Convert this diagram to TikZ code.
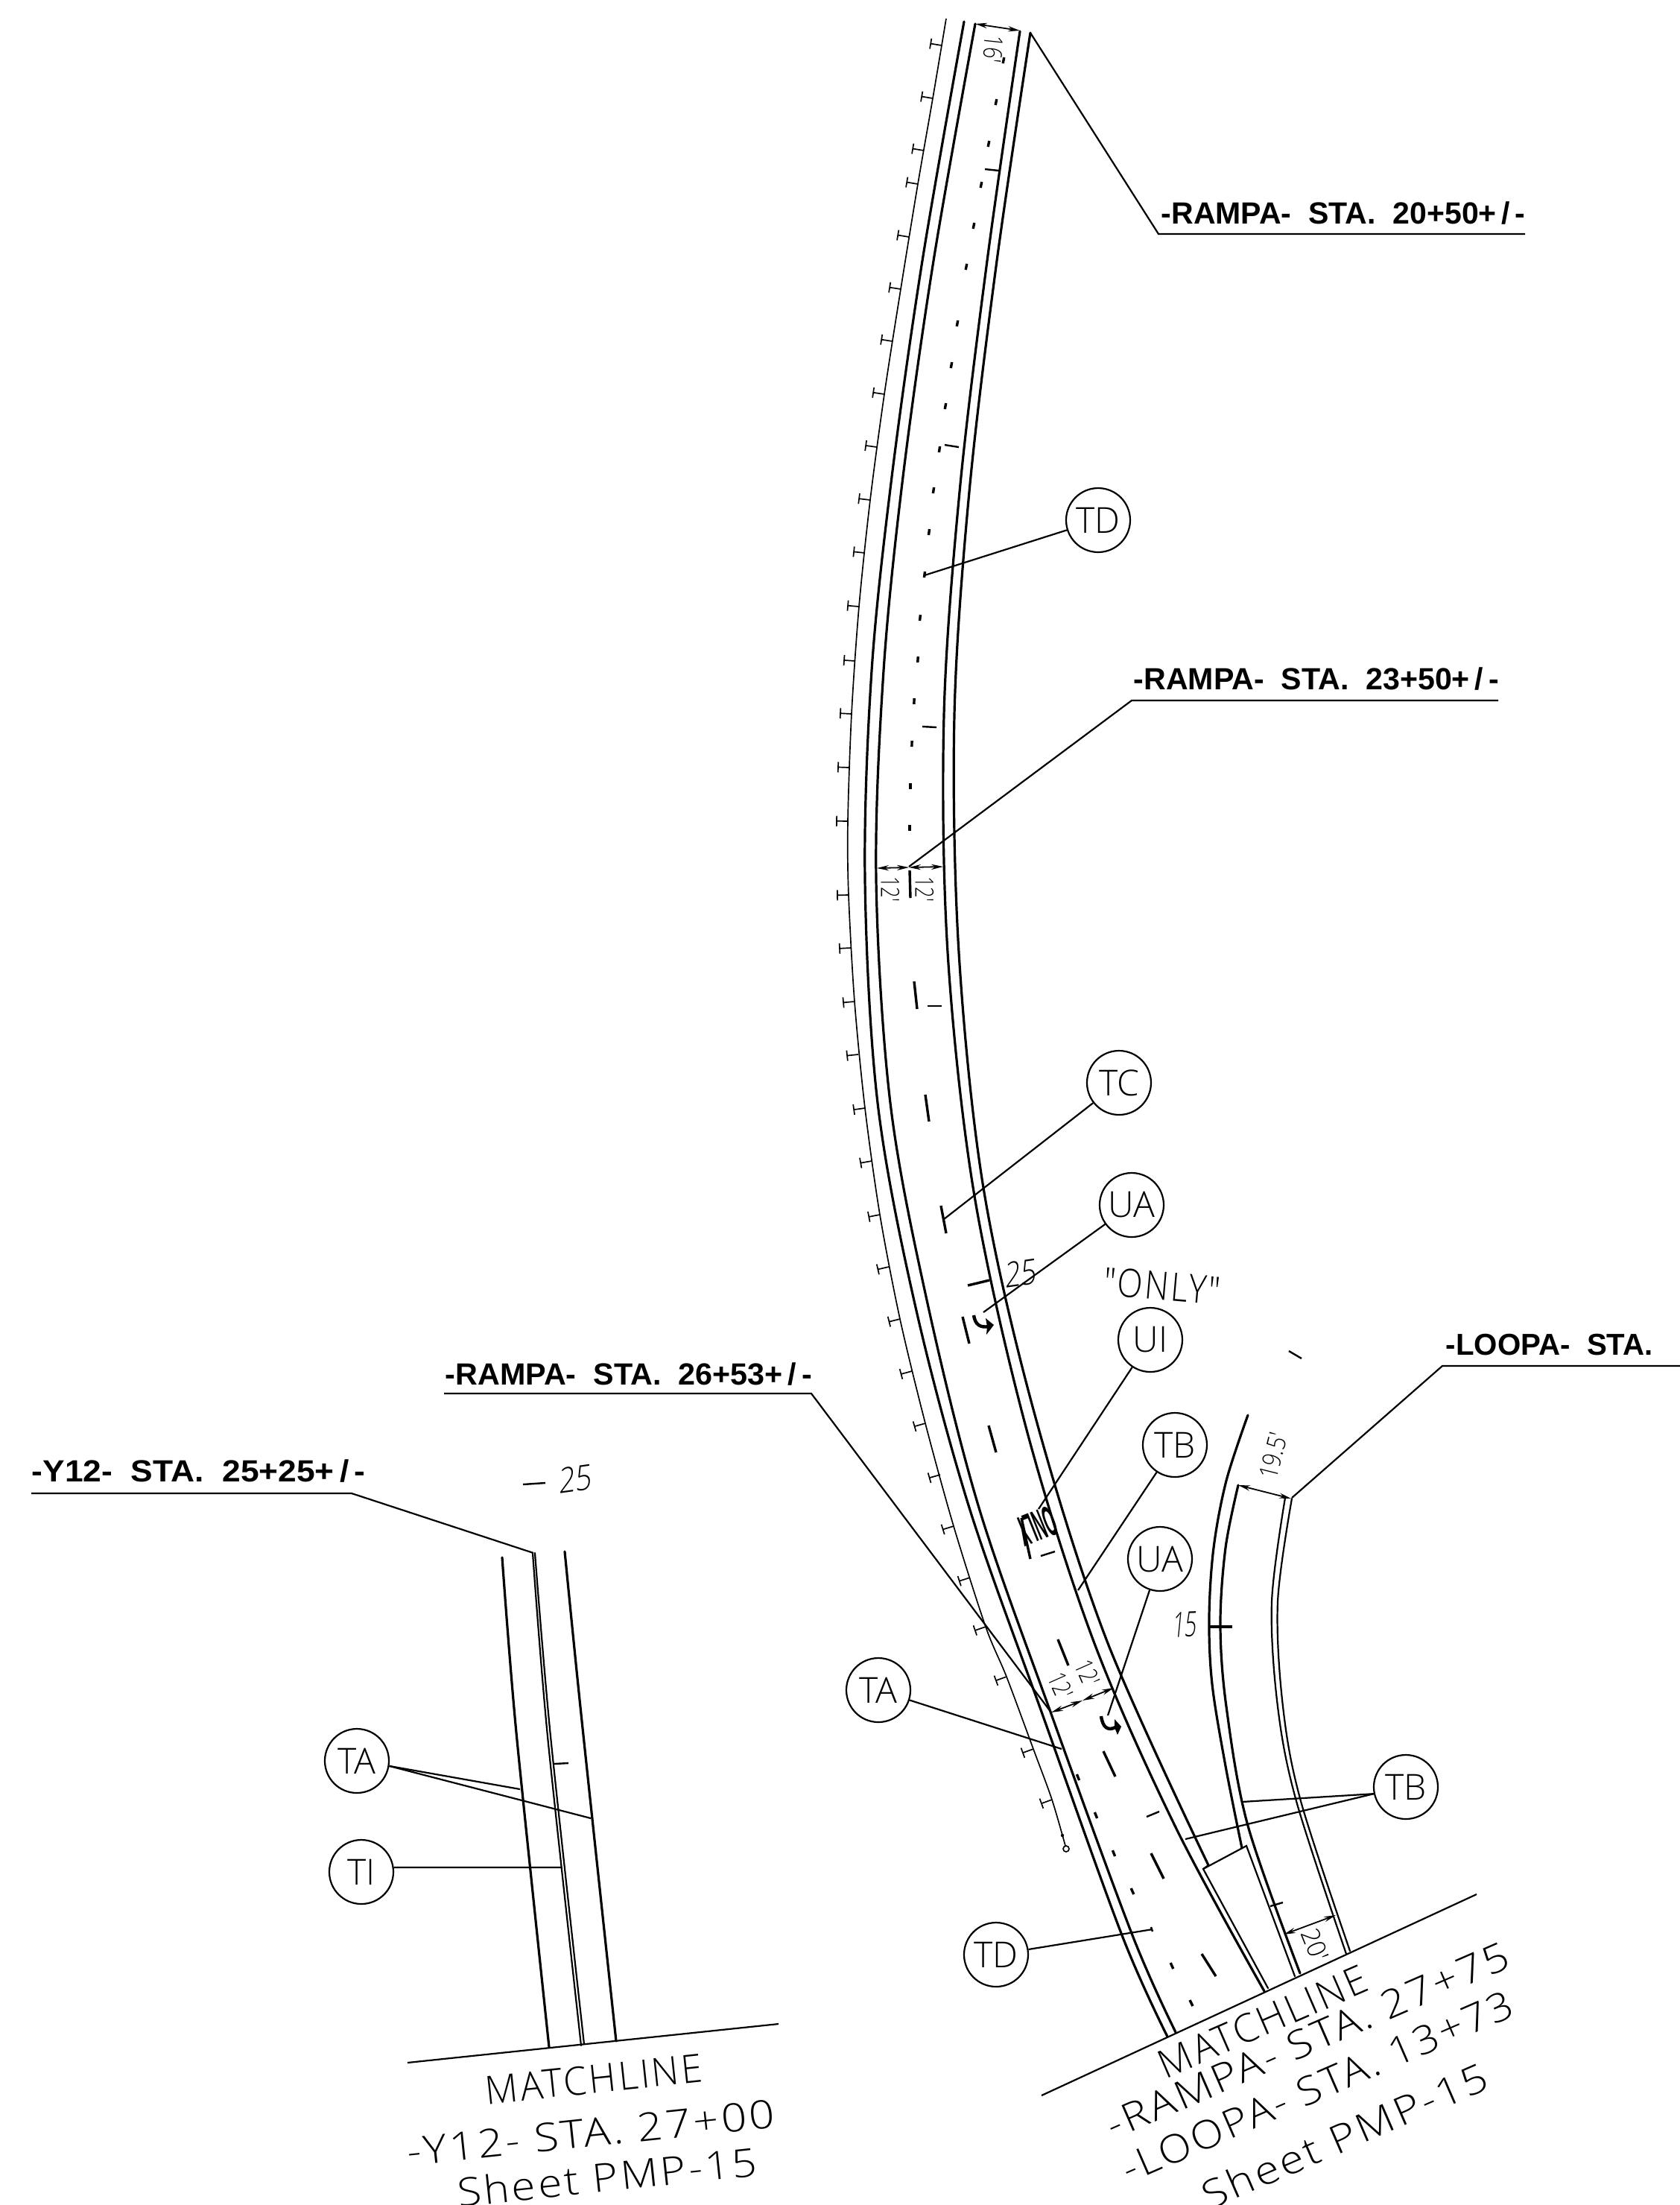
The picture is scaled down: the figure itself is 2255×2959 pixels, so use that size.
\documentclass[tikz,border=0pt]{standalone}
\usepackage{fontspec}
\usepackage{graphicx}
\usetikzlibrary{arrows.meta}
\newfontfamily\cadf[LetterSpace=6]{Open Sans Light}
\newfontfamily\cadn{Open Sans Light}
\newfontfamily\cadi[FakeSlant=.22]{Open Sans Light}
\newfontfamily\labf{Liberation Sans}
\newcommand{\fitw}[2]{\resizebox{#1pt}{\totalheight}{#2}}
\tikzset{
  road/.style={line width=.8pt,line cap=round},
  thinroad/.style={line width=.55pt,line cap=round},
  guard/.style={line width=.42pt},
  leader/.style={line width=.55pt},
  cdash/.style={line width=.85pt},
  sdash/.style={line width=.6pt},
  dimarrow/.style={line width=.45pt,{Stealth[length=4pt,width=1.8pt]}-{Stealth[length=4pt,width=1.8pt]}},
  bub/.style={circle,draw,line width=.55pt,minimum size=21.5pt,inner sep=0pt},
  lab/.style={inner sep=0pt,font=\labf\bfseries\fontsize{10}{12}\selectfont},
  cad/.style={inner sep=0pt,font=\cadn\fontsize{12}{14}\selectfont},
  bigcad/.style={inner sep=0pt,font=\cadf\fontsize{13}{15}\selectfont},
  slcad/.style={inner sep=0pt,font=\cadi\fontsize{11.5}{13}\selectfont},
  dimt/.style={inner sep=0pt,font=\cadn\fontsize{8.5}{10}\selectfont},
}
\begin{document}
\begin{tikzpicture}[x=.25pt,y=-.25pt]
\fill[white] (0,0) rectangle (2255,2959);
\useasboundingbox (0,0) rectangle (2255,2959);
% main ramp edges
\draw[road] plot[smooth,tension=.55] coordinates {(1294,29)(1238,350)(1197,640)(1170,900)(1161,1180)(1178,1480)(1228,1750)(1300,2020)(1399,2300)(1506,2597)(1567,2733)};
\draw[road] plot[smooth,tension=.55] coordinates {(1309,32)(1253,350)(1212,640)(1186,900)(1176,1180)(1195,1480)(1243,1740)(1313,2020)(1411,2300)(1520,2597)(1578,2727)};
\draw[road] plot[smooth,tension=.55] coordinates {(1369,42)(1325,350)(1288,660)(1267,960)(1272,1278)(1307,1599)(1377,1915)(1467,2200)(1577,2450)(1697,2672)};
\draw[road] plot[smooth,tension=.55] coordinates {(1383,44)(1338,350)(1301,660)(1281,960)(1287,1278)(1320,1594)(1388,1895)(1485,2200)(1622,2503)};
% taper
\draw[thinroad] (1622,2503) -- (1615,2508) -- (1702,2668);
\draw[thinroad] (1615,2508) -- (1673,2477) -- (1738,2652);
% loop
\draw[road] plot[smooth,tension=.55] coordinates {(1675,1899)(1646,1987)(1629,2077)(1623,2170)(1627,2260)(1645,2370)(1667,2480)};
\draw[road] plot[smooth,tension=.55] coordinates {(1662,1993)(1645,2077)(1638,2180)(1646,2290)(1675,2450)(1745,2648)};
\draw[thinroad] plot[smooth,tension=.55] coordinates {(1725,2010)(1707,2150)(1715,2290)(1740,2417)(1807,2622)};
\draw[thinroad] plot[smooth,tension=.55] coordinates {(1734,2011)(1715,2150)(1722,2290)(1746,2417)(1812,2618)};
% guard line
\draw[guard] plot[smooth,tension=.5] coordinates {(1270,25)(1252,132)(1232,247)(1209,388)(1187,529)(1168,671)(1153,814)(1143,958)(1138,1102)(1139,1201)(1147,1344)(1161,1487)(1181,1630)(1208,1770)(1242,1910)(1280,2048)(1323,2183)(1351,2250)(1387,2347)(1412,2415)(1430,2477)};
\foreach \x/\y/\a in {1264/61/-9.5,1252/132/-9.5,1240/202/-9.5,1232/247/-9.5,1220/318/-9.5,1209/388/-9,1198/458/-9,1187/529/-8.5,1177/600/-8,1168/671/-7,1161/742/-6,1153/814/-5,1148/887/-4,1143/958/-3,1140/1030/-2,1138/1102/-1,1139/1201/1,1142/1272/3,1147/1344/5,1152/1415/6,1161/1487/8,1170/1558/10,1181/1630/11,1193/1700/13,1208/1770/14,1224/1840/15,1242/1910/16,1262/1979/16,1280/2048/17,1302/2117/18,1323/2183/19,1351/2250/20,1387/2347/20,1412/2415/20}
  \draw[guard,shift={(\x,\y)},rotate=\a] (0,0) -- (-15,0) (-15,-7) -- (-15,7);
\draw[guard] (1431,2481) circle (4);
\fill (1426,2463) circle (2.2);
% centre dots
\foreach \x/\y/\d in {1347/81/.8,1337/137/.8,1327/193/.8,1317/248/.8,1307/303/.8,1297/358/.8,1285/434/.7,1277/490/.7,1269/545/.7,1261/603/.6,1253/658/.6,1247/714/.5,1241/771/.5,1235/829/.4,1232/885/.3,1227/941/.2,1224/998/.1,1222/1055/0,1221/1111/0,1447/2385/-1.6,1471/2436/-1.6,1495/2487/-1.6,1520/2538/-1.8,1573/2638/-1.8,1599/2688/-2}
  \draw[line width=.85pt] (\x+\d,\y-4) -- (\x-\d,\y+4);
% centre dashes
\foreach \a/\b/\c/\d in {1221/1168/1222/1205,1227/1317/1231/1354,1242/1469/1247/1505,1292/1767/1301/1803,1327/1913/1337/1949,1420/2200/1434/2235,1481/2350/1497/2384,1545/2487/1562/2521,1613/2622/1632/2652,1263/1618/1270/1655,1299/1725/1328/1718,1371/2037/1383/2092,1624/2183/1654/2183}
  \draw[cdash] (\a,\b) -- (\c,\d);
% short marks
\foreach \a/\b/\c/\d in {1322/227/1341/229,1268/597/1287/600,1238/975/1257/976,1245/1350/1264/1350,1397/2088/1416/2082,1539/2438/1556/2431,1705/2558/1722/2553,1730/1813/1747/1823,744/2367/763/2366,702/1992/732/1990,1545/2586/1547/2592}
  \draw[sdash] (\a,\b) -- (\c,\d);
% turn arrows
\draw[line width=1.1pt] (1307,1765) .. controls (1309,1778) and (1316,1782) .. (1327,1780);
\fill (1334,1778) -- (1323,1769) -- (1325,1780) -- (1324,1791) -- cycle;
\draw[line width=1.1pt] (1478,2303) .. controls (1480,2318) and (1487,2323) .. (1497,2318);
\fill (1505,2317) -- (1496,2307) -- (1496,2318) -- (1500,2328) -- cycle;
% Y12 road
\draw[road] plot[smooth,tension=.5] coordinates {(674,2090)(693,2325)(737,2747)};
\draw[thinroad] plot[smooth,tension=.5] coordinates {(715,2084)(735,2330)(780,2745)};
\draw[thinroad] plot[smooth,tension=.5] coordinates {(718,2084)(739,2330)(784,2743)};
\draw[road] plot[smooth,tension=.5] coordinates {(758,2082)(780,2300)(827,2739)};
% matchlines
\coordinate (mlA) at (547,2768); \coordinate (mlB) at (1045,2716);
\coordinate (mrA) at (1398,2812); \coordinate (mrB) at (1982,2542);
\draw[leader] (mlA) -- (mlB);
\draw[leader] (mrA) -- (mrB);
% dimensions
\coordinate (d16a) at (1309,32); \coordinate (d16b) at (1369,41);
\draw[dimarrow] (d16a) -- (d16b);
\coordinate (d12a) at (1177,1165); \coordinate (d12m) at (1220,1164); \coordinate (d12b) at (1266,1163);
\draw[dimarrow] (d12a) -- (d12m); \draw[dimarrow] (d12m) -- (d12b);
\coordinate (e12a) at (1411,2298); \coordinate (e12m) at (1453,2282); \coordinate (e12b) at (1495,2265);
\draw[dimarrow] (e12a) -- (e12m); \draw[dimarrow] (e12m) -- (e12b);
\coordinate (d195a) at (1662,1993); \coordinate (d195b) at (1733,2011);
\draw[dimarrow] (d195a) -- (d195b);
\coordinate (d20a) at (1723,2596); \coordinate (d20b) at (1793,2570);
\draw[dimarrow] (d20a) -- (d20b);
\node[dimt,rotate=-96] (t16) at (1333,66) {\fitw{9}{16'}};
\node[dimt,rotate=-90] (t12a) at (1195,1193) {\fitw{8.5}{12'}};
\node[dimt,rotate=-90] (t12b) at (1241,1193) {\fitw{8.5}{12'}};
\node[dimt,rotate=-66] (t12c) at (1424,2262) {\fitw{8.5}{12'}};
\node[dimt,rotate=-66] (t12d) at (1460,2245) {\fitw{8.5}{12'}};
\node[dimt,rotate=76] (t195) at (1709,1953) {\fitw{15.5}{19.5'}};
\node[dimt,rotate=-68] (t20) at (1765,2610) {\fitw{11}{20'}};
% bold station labels
\node[lab,anchor=west] (lab1) at (1558,286) {\fitw{122.2}{-RAMPA-\ \ STA.\ \ 20+50+\,/\,-}};
\node[lab,anchor=west] (lab2) at (1521,911) {\fitw{122.5}{-RAMPA-\ \ STA.\ \ 23+50+\,/\,-}};
\node[lab,anchor=west] (lab3) at (597,1844) {\fitw{123}{-RAMPA-\ \ STA.\ \ 26+53+\,/\,-}};
\node[lab,anchor=west] (lab4) at (42,1974) {\fitw{112}{-Y12-\ \ STA.\ \ 25+25+\,/\,-}};
\node[lab,anchor=west] (lab5) at (1940,1805) {\fitw{69.5}{-LOOPA-\ \ STA.}};
\coordinate (u1a) at (1555,314); \coordinate (u1b) at (2047,314); \coordinate (u1c) at (1383,44);
\draw[leader] (u1c) -- (u1a) -- (u1b);
\coordinate (u2a) at (1519,940); \coordinate (u2b) at (2011,940); \coordinate (u2c) at (1220,1163);
\draw[leader] (u2c) -- (u2a) -- (u2b);
\coordinate (u3a) at (596,1870); \coordinate (u3b) at (1089,1870); \coordinate (u3c) at (1411,2298);
\draw[leader] (u3a) -- (u3b) -- (u3c);
\coordinate (u4a) at (42,2004); \coordinate (u4b) at (472,2004); \coordinate (u4c) at (716,2084);
\draw[leader] (u4a) -- (u4b) -- (u4c);
\coordinate (u5a) at (1936,1833); \coordinate (u5b) at (2255,1833); \coordinate (u5c) at (1734,2010);
\draw[leader] (u5c) -- (u5a) -- (u5b);
% callout bubbles
\node[bub,cad] (TD1) at (1474,698) {TD};
\node[bub,cad] (TC) at (1502,1453) {TC};
\node[bub,cad] (UA1) at (1519,1617) {UA};
\node[bub,cad] (UI) at (1544,1798) {UI};
\node[bub,cad] (TB1) at (1577,1939) {TB};
\node[bub,cad] (UA2) at (1557,2092) {UA};
\node[bub,cad] (TA2) at (1179,2268) {TA};
\node[bub,cad] (TD2) at (1337,2623) {TD};
\node[bub,cad] (TB2) at (1887,2398) {TB};
\node[bub,cad] (TA1) at (479,2363) {TA};
\node[bub,cad] (TI) at (485,2512) {TI};
\coordinate (eTD1) at (1241,772);
\coordinate (eTC) at (1267,1636);
\coordinate (eUA1) at (1320,1761);
\coordinate (eUI) at (1394,2025);
\coordinate (eTB1) at (1447,2134);
\coordinate (eUA2) at (1487,2302);
\coordinate (eTA2) at (1425,2347);
\coordinate (eTD2) at (1547,2589);
\coordinate (eTB2a) at (1667,2418);
\coordinate (eTB2b) at (1591,2468);
\coordinate (eTA1a) at (698,2401);
\coordinate (eTA1b) at (793,2440);
\coordinate (eTI) at (754,2506);
\foreach \n in {TD1,TC,UA1,UI,TB1,UA2,TA2,TD2}
  \draw[leader] (\n) -- (e\n);
\draw[leader] (TB2.192) -- (eTB2a);
\draw[leader] (TB2.192) -- (eTB2b);
\draw[leader] (TA1.-9) -- (eTA1a);
\draw[leader] (TA1.-9) -- (eTA1b);
\draw[leader] (TI.8) -- (eTI);
% loose text
\node[bigcad,rotate=-5] (only) at (1560,1726) {\fitw{39}{"ONLY"}};
\node[slcad,rotate=8] (t25a) at (1368,1709) {\fitw{10.5}{25}};
\node[slcad,rotate=8] (t25b) at (770,1985) {\fitw{11}{25}};
\node[slcad,rotate=2] (t15) at (1589,2180) {\fitw{8}{15}};
\node[inner sep=0pt,rotate=202] (mark) at (1392,2048) {\resizebox{13pt}{10pt}{\labf\bfseries ONLY}};
% matchline text
\node[bigcad,rotate=6] (ml1) at (797,2790) {\fitw{73}{MATCHLINE}};
\node[bigcad,rotate=6] (ml2) at (793,2862) {\fitw{124}{-Y12-\ STA. 27+00}};
\node[bigcad,rotate=6] (ml3) at (815,2921) {\fitw{101}{Sheet\ PMP-15}};
\node[bigcad,rotate=23.5] (mr1) at (1695,2713) {\fitw{75}{MATCHLINE}};
\node[bigcad,rotate=23.5] (mr2) at (1755,2738) {\fitw{146}{-RAMPA-\ STA. 27+75}};
\node[bigcad,rotate=23.5] (mr3) at (1768,2800) {\fitw{142}{-LOOPA-\ STA. 13+73}};
\node[bigcad,rotate=23.5] (mr4) at (1805,2866) {\fitw{103}{Sheet\ PMP-15}};
\end{tikzpicture}
\end{document}
